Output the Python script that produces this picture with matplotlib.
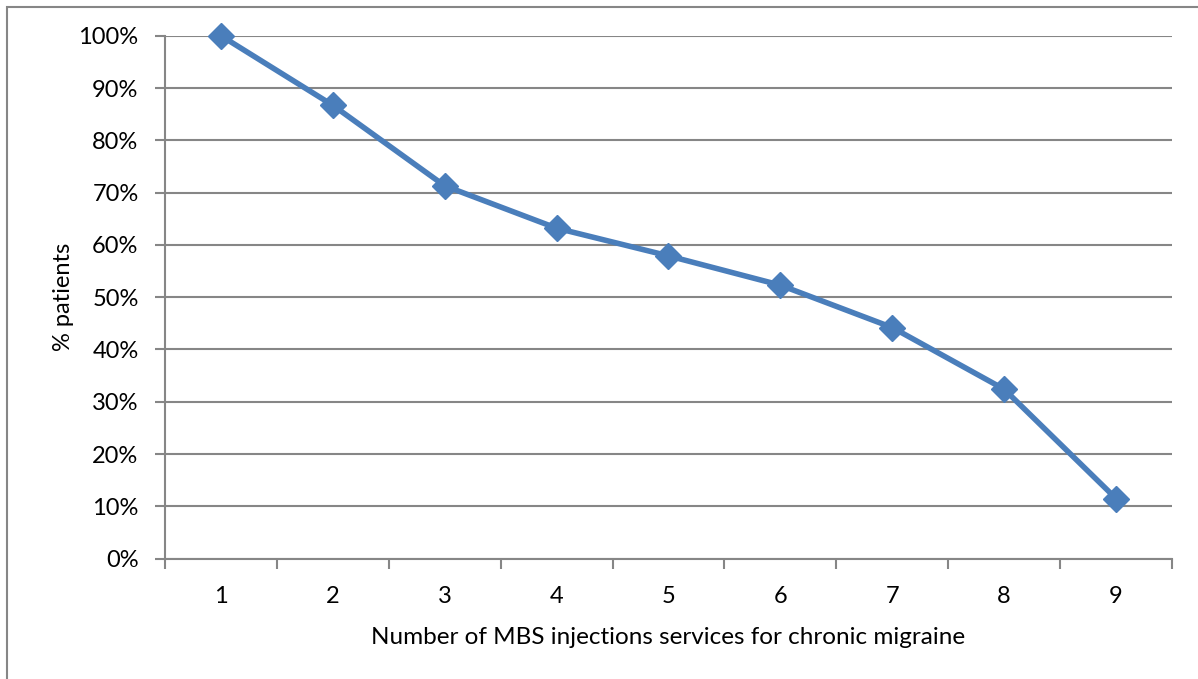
import matplotlib
matplotlib.use('Agg')
import matplotlib.pyplot as plt
from matplotlib.patches import Rectangle
from matplotlib.ticker import FixedLocator, PercentFormatter

plt.rcParams['font.family'] = ['Lato', 'DejaVu Sans']

# data
services = [1, 2, 3, 4, 5, 6, 7, 8, 9]
pct_patients = [100, 86.7, 71.3, 63.2, 57.9, 52.3, 44.2, 32.4, 11.5]

axis_grey = '#868686'
line_blue = '#4A7EBB'

fig = plt.figure(figsize=(11.98, 6.79), dpi=100)
ax = fig.add_axes([0.1377, 0.1772, 0.8406, 0.7702])

# outer chart frame (right/bottom edges are cropped off in the original)
fig.patches.append(Rectangle((7 / 1198, -0.1), 1.2, 1 - 7 / 679 + 0.1,
                             transform=fig.transFigure, fill=False,
                             edgecolor=axis_grey, linewidth=1.5))

ax.plot(services, pct_patients, color=line_blue, linewidth=4,
        marker='D', markersize=13, markerfacecolor=line_blue,
        markeredgecolor=line_blue, zorder=3, clip_on=False)

ax.set_xlim(0.5, 9.5)
ax.set_ylim(0, 100)
ax.set_yticks(range(0, 101, 10))
ax.yaxis.set_major_formatter(PercentFormatter(decimals=0))
ax.set_xticks(services)
ax.xaxis.set_minor_locator(FixedLocator([i + 0.5 for i in range(0, 10)]))
ax.tick_params(axis='x', which='major', length=0, pad=20, labelsize=17)
ax.tick_params(axis='x', which='minor', length=7, width=1.5, color=axis_grey, direction='out')
ax.tick_params(axis='y', length=7, width=1.5, color=axis_grey, direction='out', pad=12, labelsize=17)

ax.grid(axis='y', color=axis_grey, linewidth=1.5)
ax.set_axisbelow(True)
for side in ['top', 'right']:
    ax.spines[side].set_visible(False)
for side in ['left', 'bottom']:
    ax.spines[side].set_color(axis_grey)
    ax.spines[side].set_linewidth(1.5)

ax.set_xlabel('Number of MBS injections services for chronic migraine', fontsize=17.5, labelpad=14)
ax.set_ylabel('% patients', fontsize=17, labelpad=3)

fig.savefig('out.png', dpi=100)
